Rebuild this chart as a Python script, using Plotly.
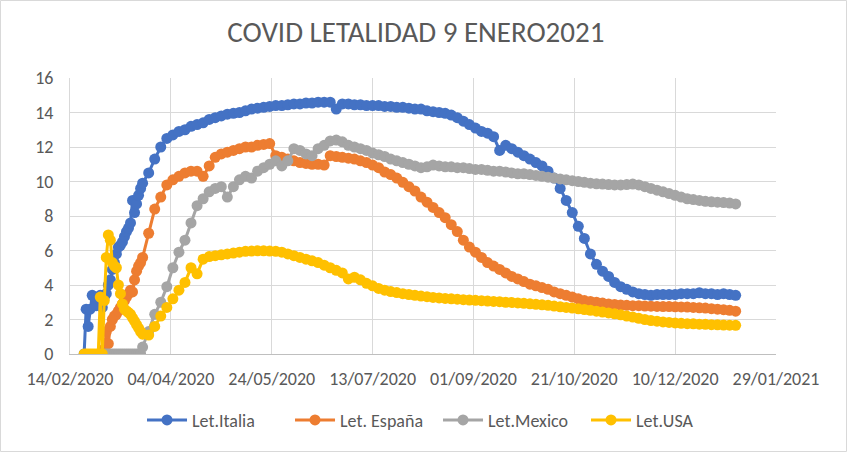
import pandas as pd
import plotly.graph_objects as go

# ---- x values (dates) ----
dates_early = pd.date_range("2020-02-21", periods=30, freq="D")          # 21/02 .. 21/03 daily
dates_late = pd.date_range("2020-03-24", periods=98, freq="3D")          # 24/03/2020 .. 09/01/2021
dates = list(dates_early) + list(dates_late)

# ---- series values (lethality %) ----
italia_early = [0, 2.6, 1.6, 2.6, 3.4, 3.3, 2.8, 3.2, 3.4, 2.7,
                3.3, 3.5, 4.0, 4.3, 4.9, 5.3, 5.8, 6.2, 6.3, 6.5,
                6.8, 7.1, 7.3, 7.6, 8.9, 8.2, 8.7, 9.2, 9.6, 9.9]
italia_late = [10.5, 11.3, 12.0, 12.5, 12.7, 12.9, 13.0, 13.2, 13.3, 13.4,
               13.6, 13.7, 13.8, 13.9, 13.95, 14.0, 14.1, 14.2, 14.25, 14.3,
               14.35, 14.4, 14.4, 14.45, 14.5, 14.5, 14.55, 14.55, 14.6, 14.6,
               14.6, 14.2, 14.5, 14.5, 14.45, 14.45, 14.4, 14.4, 14.4, 14.35,
               14.35, 14.3, 14.3, 14.25, 14.2, 14.2, 14.1, 14.05, 14.0, 13.95,
               13.85, 13.7, 13.5, 13.3, 13.1, 12.9, 12.8, 12.6, 11.8, 12.1,
               11.9, 11.7, 11.5, 11.3, 11.1, 10.9, 10.6, 10.2, 9.6, 8.9,
               8.2, 7.4, 6.7, 5.8, 5.2, 4.8, 4.5, 4.15, 3.9, 3.75,
               3.6, 3.5, 3.45, 3.4, 3.45, 3.45, 3.45, 3.45, 3.5, 3.5,
               3.5, 3.55, 3.5, 3.5, 3.45, 3.5, 3.45, 3.4]

espana_early = [None, None, None, None, None, None, None, None, None, 0,
                0.3, 1.3, 0.6, 1.6, 2.0, 2.2, 2.3, 2.5, 2.7, 2.9,
                3.1, 3.3, 3.5, 3.7, 3.6, 4.3, 4.8, 5.1, 5.3, 5.6]
espana_late = [7.0, 8.4, 9.1, 9.8, 10.1, 10.3, 10.5, 10.6, 10.6, 10.3,
               10.9, 11.4, 11.6, 11.7, 11.8, 11.9, 12.0, 12.0, 12.1, 12.15,
               12.2, 11.5, 11.4, 11.3, 11.2, 11.1, 11.05, 11.0, 11.0, 10.95,
               11.5, 11.45, 11.4, 11.35, 11.3, 11.2, 11.1, 10.95, 10.8, 10.55,
               10.4, 10.2, 9.95, 9.7, 9.45, 9.1, 8.8, 8.5, 8.2, 7.9,
               7.5, 7.1, 6.6, 6.2, 5.9, 5.6, 5.3, 5.1, 4.9, 4.7,
               4.5, 4.35, 4.2, 4.05, 3.95, 3.85, 3.75, 3.6, 3.5, 3.4,
               3.3, 3.2, 3.1, 3.05, 3.0, 2.95, 2.9, 2.87, 2.84, 2.82,
               2.8, 2.8, 2.78, 2.77, 2.76, 2.75, 2.75, 2.74, 2.73, 2.72,
               2.7, 2.68, 2.66, 2.63, 2.6, 2.57, 2.53, 2.48]

mexico_early = [None, None, None, None, None, None, None, None, 0, 0,
                0, 0, 0, 0, 0, 0, 0, 0, 0, 0,
                0, 0, 0, 0, 0, 0, 0, 0, 0, 0.4]
mexico_late = [1.3, 2.3, 3.0, 3.9, 5.0, 5.9, 6.6, 7.6, 8.6, 9.0,
               9.4, 9.6, 9.7, 9.1, 9.7, 10.1, 10.3, 10.2, 10.6, 10.8,
               11.0, 11.2, 10.9, 11.2, 11.9, 11.8, 11.6, 11.5, 11.9, 12.1,
               12.35, 12.4, 12.3, 12.1, 12.0, 11.9, 11.8, 11.65, 11.55, 11.45,
               11.3, 11.2, 11.1, 11.0, 10.9, 10.8, 10.85, 10.95, 10.9, 10.85,
               10.85, 10.8, 10.8, 10.75, 10.7, 10.7, 10.65, 10.6, 10.6, 10.55,
               10.5, 10.45, 10.45, 10.4, 10.35, 10.3, 10.25, 10.2, 10.15, 10.1,
               10.05, 10.0, 9.95, 9.9, 9.87, 9.85, 9.82, 9.8, 9.8, 9.82,
               9.85, 9.8, 9.7, 9.6, 9.5, 9.4, 9.3, 9.2, 9.1, 9.0,
               8.95, 8.9, 8.85, 8.82, 8.8, 8.78, 8.75, 8.7]

usa_early = [0, 0, 0, 0, 0, 0, 0, 0, 3.3, 0,
             3.1, 5.6, 6.9, 6.6, 5.3, 5.1, 5.0, 4.0, 3.5, 2.9,
             2.6, 2.5, 2.4, 2.3, 2.1, 1.9, 1.7, 1.5, 1.3, 1.15]
usa_late = [1.1, 1.6, 2.2, 2.7, 3.2, 3.7, 4.15, 5.0, 4.65, 5.5,
            5.65, 5.7, 5.75, 5.8, 5.85, 5.9, 5.95, 5.97, 5.98, 5.98,
            5.97, 5.95, 5.9, 5.8, 5.7, 5.6, 5.5, 5.4, 5.3, 5.15,
            5.0, 4.85, 4.7, 4.35, 4.45, 4.3, 4.1, 3.95, 3.8, 3.7,
            3.62, 3.56, 3.5, 3.45, 3.4, 3.36, 3.32, 3.28, 3.25, 3.22,
            3.2, 3.18, 3.15, 3.13, 3.11, 3.09, 3.07, 3.05, 3.03, 3.0,
            2.98, 2.96, 2.94, 2.91, 2.88, 2.85, 2.82, 2.78, 2.74, 2.7,
            2.66, 2.62, 2.58, 2.53, 2.48, 2.43, 2.38, 2.33, 2.27, 2.2,
            2.14, 2.07, 2.0, 1.94, 1.9, 1.86, 1.83, 1.8, 1.78, 1.76,
            1.75, 1.73, 1.72, 1.7, 1.69, 1.68, 1.67, 1.66]

series_names = ["Let.Italia", "Let. España", "Let.Mexico", "Let.USA"]
series_values = [italia_early + italia_late, espana_early + espana_late,
                 mexico_early + mexico_late, usa_early + usa_late]
series_colors = ["#4472C4", "#ED7D31", "#A5A5A5", "#FFC000"]

y_ticks = [0, 2, 4, 6, 8, 10, 12, 14, 16]
title_text = "COVID LETALIDAD 9 ENERO2021"

FONT = "Carlito, Lato, 'Liberation Sans', sans-serif"
TXT = "#595959"

fig = go.Figure()
for name, vals, col in zip(series_names, series_values, series_colors):
    fig.add_trace(go.Scatter(
        x=dates, y=vals, name=name, mode="lines+markers",
        line=dict(color=col, width=3),
        marker=dict(color=col, size=11),
    ))

W, H = 847, 452
L, R, T, B = 70, 71, 78, 98
pw, ph = W - L - R, H - T - B

fig.update_layout(
    width=W, height=H,
    margin=dict(l=L, r=R, t=T, b=B),
    paper_bgcolor="white", plot_bgcolor="white",
    font=dict(family=FONT, color=TXT, size=18),
    title=dict(text=title_text, x=0.491, xref="container", xanchor="center",
               y=1 - 32 / H, yref="container", yanchor="middle",
               font=dict(family=FONT, size=29, color=TXT)),
    showlegend=True,
    legend=dict(orientation="h", x=0.102, xanchor="left", y=-0.24, yanchor="middle",
                font=dict(family=FONT, size=18, color=TXT), itemwidth=40,
                entrywidth=93, entrywidthmode="pixels",
                bgcolor="rgba(0,0,0,0)"),
    xaxis=dict(type="date", range=["2020-02-14", "2021-01-29"],
               tick0="2020-02-14", dtick=50 * 86400000, tickformat="%d/%m/%Y",
               showgrid=True, gridcolor="#d9d9d9", gridwidth=1,
               showline=True, linecolor="#bfbfbf", linewidth=1,
               zeroline=False, ticks="", ticklabelstandoff=8,
               tickfont=dict(family=FONT, size=18, color=TXT)),
    yaxis=dict(range=[0, 16], tickvals=y_ticks, showgrid=True, gridcolor="#d9d9d9",
               gridwidth=1, zeroline=False, showline=True, linecolor="#d9d9d9",
               ticks="", ticklabelstandoff=12,
               tickfont=dict(family=FONT, size=18, color=TXT)),
)

# chart-area border
fig.add_shape(type="rect", xref="paper", yref="paper",
              x0=(0.5 - L) / pw, x1=(W - 0.5 - L) / pw,
              y0=-(B - 0.5) / ph, y1=1 + (T - 0.5) / ph,
              line=dict(color="#d9d9d9", width=1), layer="below")

fig.write_html("out.html", config={"displayModeBar": False},
               post_script="document.body.style.margin='0';document.body.style.overflow='hidden';")
